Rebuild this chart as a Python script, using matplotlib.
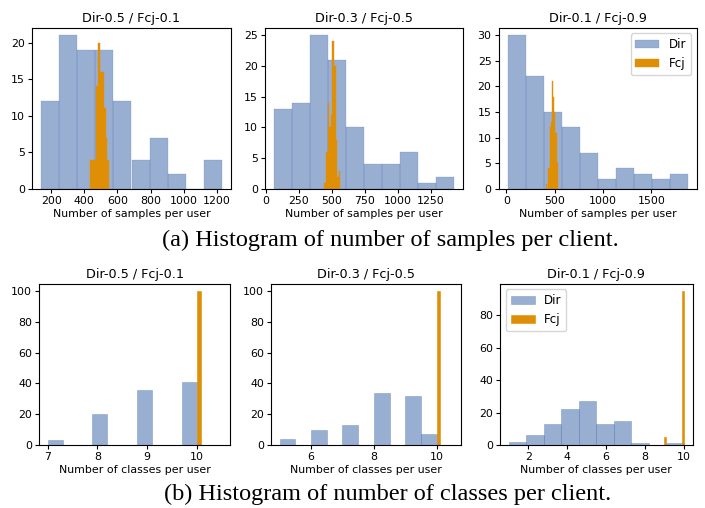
import numpy as np
import matplotlib
matplotlib.use("Agg")
import matplotlib.pyplot as plt

# ---- data (100 clients per histogram) ----
titles = ["Dir-0.5 / Fcj-0.1", "Dir-0.3 / Fcj-0.5", "Dir-0.1 / Fcj-0.9"]

# samples per client: (bin range, counts over 10 bins)
samples_dir_range = [(138, 1232), (60, 1428), (13, 1879)]
samples_dir_counts = [
    [12, 21, 19, 19, 12, 4, 7, 2, 0, 4],
    [13, 14, 25, 21, 10, 4, 4, 6, 1, 2],
    [30, 22, 15, 12, 7, 2, 4, 3, 2, 3],
]
samples_fcj_range = [(437, 551), (443, 564), (412, 533)]
samples_fcj_counts = [
    [4, 4, 4, 14, 20, 16, 16, 11, 7, 4],
    [1, 6, 14, 10, 12, 24, 20, 8, 2, 3],
    [1, 0, 4, 12, 13, 21, 18, 15, 11, 5],
]
samples_xticks = [
    [200, 400, 600, 800, 1000, 1200],
    [0, 250, 500, 750, 1000, 1250],
    [0, 500, 1000, 1500],
]

# classes per client
classes_dir_range = [(7, 10), (5, 10), (1, 10)]
classes_dir_counts = [
    [3, 0, 0, 20, 0, 0, 36, 0, 0, 41],
    [4, 0, 10, 0, 13, 0, 34, 0, 32, 7],
    [2, 6, 13, 22, 27, 13, 15, 1, 0, 1],
]
classes_fcj_range = [(9.5, 10.5), (9.5, 10.5), (9, 10)]
classes_fcj_counts = [
    [0, 0, 0, 0, 0, 100, 0, 0, 0, 0],
    [0, 0, 0, 0, 0, 100, 0, 0, 0, 0],
    [5, 0, 0, 0, 0, 0, 0, 0, 0, 95],
]

DIR_COLOR = "#4c72b0"
FCJ_COLOR = "#de8f05"

plt.rcParams["font.family"] = "DejaVu Sans"
plt.rcParams["font.size"] = 7.9

W, H = 705, 508
fig = plt.figure(figsize=(W / 100, H / 100), dpi=100)


def px_axes(x0, y0, x1, y1):
    # pixel box (top-left origin) -> figure fraction
    return fig.add_axes([x0 / W, 1 - y1 / H, (x1 - x0) / W, (y1 - y0) / H])


def draw_hist(ax, rng, counts, color, alpha, label, lw):
    edges = np.linspace(rng[0], rng[1], len(counts) + 1)
    centers = (edges[:-1] + edges[1:]) / 2
    ax.hist(centers, bins=edges, weights=counts, color=color, alpha=alpha,
            label=label, edgecolor=color, linewidth=lw)


top_boxes = [(32, 27.5, 231, 189), (265, 27.5, 463, 189), (498.5, 27.5, 697, 189)]
bot_boxes = [(39, 283.5, 230, 445), (271, 283.5, 461, 445), (500, 283.5, 692.5, 445)]

for i in range(3):
    ax = px_axes(*top_boxes[i])
    draw_hist(ax, samples_dir_range[i], samples_dir_counts[i], DIR_COLOR, 0.57, "Dir", 0.25)
    draw_hist(ax, samples_fcj_range[i], samples_fcj_counts[i], FCJ_COLOR, 1.0, "Fcj", 0.3)
    ax.set_xticks(samples_xticks[i])
    ax.set_title(titles[i], fontsize=9.2, pad=4)
    ax.set_xlabel("Number of samples per user", labelpad=2)
    ax.tick_params(length=3, pad=2)
    if i == 2:
        ax.legend(loc="upper right", fontsize=8.6)

for i in range(3):
    ax = px_axes(*bot_boxes[i])
    draw_hist(ax, classes_dir_range[i], classes_dir_counts[i], DIR_COLOR, 0.57, "Dir", 0.4)
    draw_hist(ax, classes_fcj_range[i], classes_fcj_counts[i], FCJ_COLOR, 1.0, "Fcj", 0.4)
    ax.set_title(titles[i], fontsize=9.2, pad=4)
    ax.set_xlabel("Number of classes per user", labelpad=2)
    ax.tick_params(length=3, pad=2)
    if i == 2:
        ax.legend(loc="upper left", fontsize=8.6)

fig.text(390 / W, 1 - 240 / H, "(a) Histogram of number of samples per client.",
         ha="center", va="center", family="Liberation Serif", fontsize=17.5)
fig.text(388 / W, 1 - 494 / H, "(b) Histogram of number of classes per client.",
         ha="center", va="center", family="Liberation Serif", fontsize=17.5)

fig.savefig("out.png", dpi=100)
